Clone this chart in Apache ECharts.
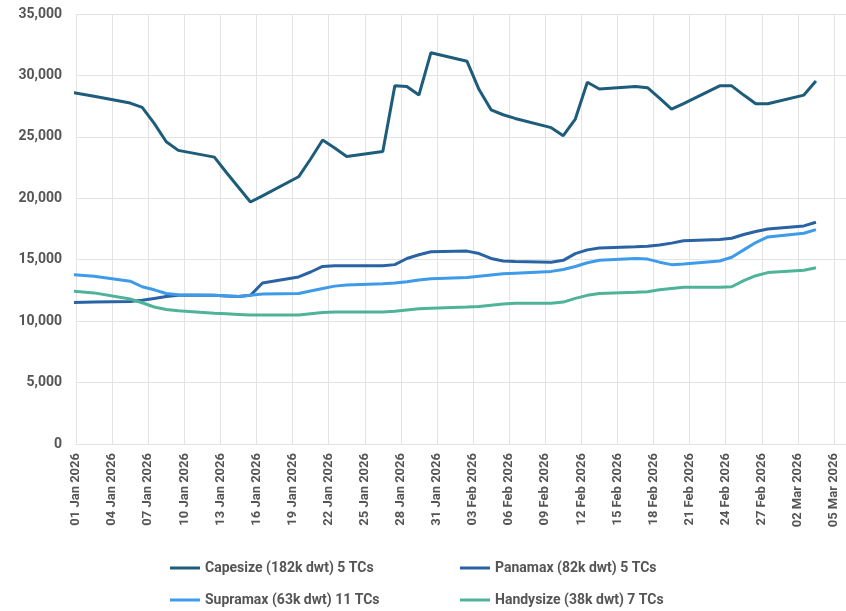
<!DOCTYPE html>
<html>
<head>
<meta charset="utf-8">
<script src="https://cdn.jsdelivr.net/npm/echarts@6/dist/echarts.min.js"></script>
<style>
  html, body { margin: 0; padding: 0; background: #fff; }
  #chart { width: 846px; height: 611px; }
</style>
</head>
<body>
<div id="chart"></div>
<script>
// weekday fixings (the first one sits just before the axis start and gets clipped)
const dates = [
  '2025-12-31', '2026-01-02',
  '2026-01-05', '2026-01-06', '2026-01-07', '2026-01-08', '2026-01-09',
  '2026-01-12', '2026-01-13', '2026-01-14', '2026-01-15', '2026-01-16',
  '2026-01-19', '2026-01-20', '2026-01-21', '2026-01-22', '2026-01-23',
  '2026-01-26', '2026-01-27', '2026-01-28', '2026-01-29', '2026-01-30',
  '2026-02-02', '2026-02-03', '2026-02-04', '2026-02-05', '2026-02-06',
  '2026-02-09', '2026-02-10', '2026-02-11', '2026-02-12', '2026-02-13',
  '2026-02-16', '2026-02-17', '2026-02-18', '2026-02-19', '2026-02-20',
  '2026-02-23', '2026-02-24', '2026-02-25', '2026-02-26', '2026-02-27',
  '2026-03-02', '2026-03-03'
]

const capesize = [
  28650, 28300,
  27750, 27400, 26100, 24600, 23900,
  23350, 22100, 20900, 19700, 20200,
  21750, 23200, 24750, 24100, 23400,
  23800, 29150, 29100, 28400, 31850,
  31150, 28850, 27200, 26800, 26500,
  25750, 25100, 26450, 29450, 28900,
  29100, 29000, 28150, 27250, 27700,
  29150, 29150, 28400, 27700, 27700,
  28400, 29550
]
const panamax = [
  11500, 11550,
  11600, 11700, 11850, 12000, 12100,
  12100, 12050, 12000, 12100, 13100,
  13600, 14000, 14450, 14500, 14500,
  14500, 14600, 15100, 15400, 15650,
  15700, 15500, 15100, 14900, 14850,
  14800, 14950, 15500, 15800, 15950,
  16050, 16100, 16200, 16350, 16550,
  16650, 16750, 17050, 17300, 17500,
  17750, 18050
]
const supramax = [
  13800, 13650,
  13250, 12800, 12550, 12250, 12150,
  12100, 12050, 12000, 12100, 12200,
  12250, 12450, 12650, 12850, 12950,
  13050, 13100, 13200, 13350, 13450,
  13550, 13650, 13750, 13850, 13900,
  14050, 14200, 14450, 14750, 14950,
  15100, 15050, 14800, 14600, 14650,
  14900, 15200, 15800, 16400, 16850,
  17150, 17450
]
const handysize = [
  12450, 12300,
  11800, 11500, 11150, 10950, 10850,
  10650, 10600, 10550, 10500, 10500,
  10500, 10600, 10700, 10750, 10750,
  10750, 10800, 10900, 11000, 11050,
  11150, 11200, 11300, 11400, 11450,
  11450, 11550, 11850, 12100, 12250,
  12350, 12400, 12550, 12650, 12750,
  12750, 12800, 13300, 13700, 13950,
  14150, 14350
]

const seriesNames = [
  'Capesize (182k dwt) 5 TCs',
  'Panamax (82k dwt) 5 TCs',
  'Supramax (63k dwt) 11 TCs',
  'Handysize (38k dwt) 7 TCs'
]
const colors = ['#1d5c7a', '#2a63a3', '#3d9be9', '#4fb39a']

const axisStart = '2026-01-01'
const months = ['Jan', 'Feb', 'Mar', 'Apr', 'May', 'Jun', 'Jul', 'Aug', 'Sep', 'Oct', 'Nov', 'Dec']
const DAY = 86400000

// fixings are plotted at midday
function dayPos (d) {
  return (Date.parse(d) - Date.parse(axisStart)) / DAY + 0.5
}
function dayLabel (v) {
  if (v % 3 !== 0) return ''
  const d = new Date(Date.parse(axisStart) + v * DAY)
  const dd = String(d.getUTCDate()).padStart(2, '0')
  return dd + ' ' + months[d.getUTCMonth()] + ' ' + d.getUTCFullYear()
}

const chart = echarts.init(document.getElementById('chart'))

const textColor = '#555'
const gridColor = '#e3e3e3'

const allValues = [capesize, panamax, supramax, handysize]

chart.setOption({
  animation: false,
  textStyle: { fontFamily: 'Roboto' },
  grid: { left: 76, right: 0, top: 14, bottom: 167 },
  legend: [
    { data: [seriesNames[0]], left: 170, top: 561 },
    { data: [seriesNames[1]], left: 460, top: 561 },
    { data: [seriesNames[2]], left: 170, top: 593 },
    { data: [seriesNames[3]], left: 460, top: 593 }
  ].map(l => Object.assign({
    icon: 'rect',
    itemWidth: 30,
    itemHeight: 3,
    itemGap: 8,
    padding: 0,
    textStyle: { color: textColor, fontSize: 14, fontWeight: 'bold', fontFamily: 'Roboto' }
  }, l)),
  xAxis: {
    type: 'value',
    min: 0,
    max: 64,
    interval: 3,
    axisLine: { show: true, lineStyle: { color: gridColor } },
    axisTick: { show: false },
    splitLine: { show: true, lineStyle: { color: gridColor, width: 1 } },
    axisLabel: {
      rotate: 90,
      margin: 9,
      color: textColor,
      fontSize: 13,
      fontWeight: 'bold',
      showMaxLabel: false,
      formatter: dayLabel
    }
  },
  yAxis: {
    type: 'value',
    min: 0,
    max: 35000,
    interval: 5000,
    axisLine: { show: false },
    axisTick: { show: false },
    splitLine: { lineStyle: { color: gridColor, width: 1 } },
    axisLabel: {
      margin: 14,
      color: textColor,
      fontSize: 14,
      fontWeight: 'bold',
      formatter: v => v.toLocaleString('en-US')
    }
  },
  series: seriesNames.map((name, i) => ({
    name,
    type: 'line',
    showSymbol: false,
    clip: true,
    color: colors[i],
    lineStyle: { width: 3, color: colors[i] },
    data: dates.map((d, k) => [dayPos(d), allValues[i][k]])
  }))
})
</script>
</body>
</html>
